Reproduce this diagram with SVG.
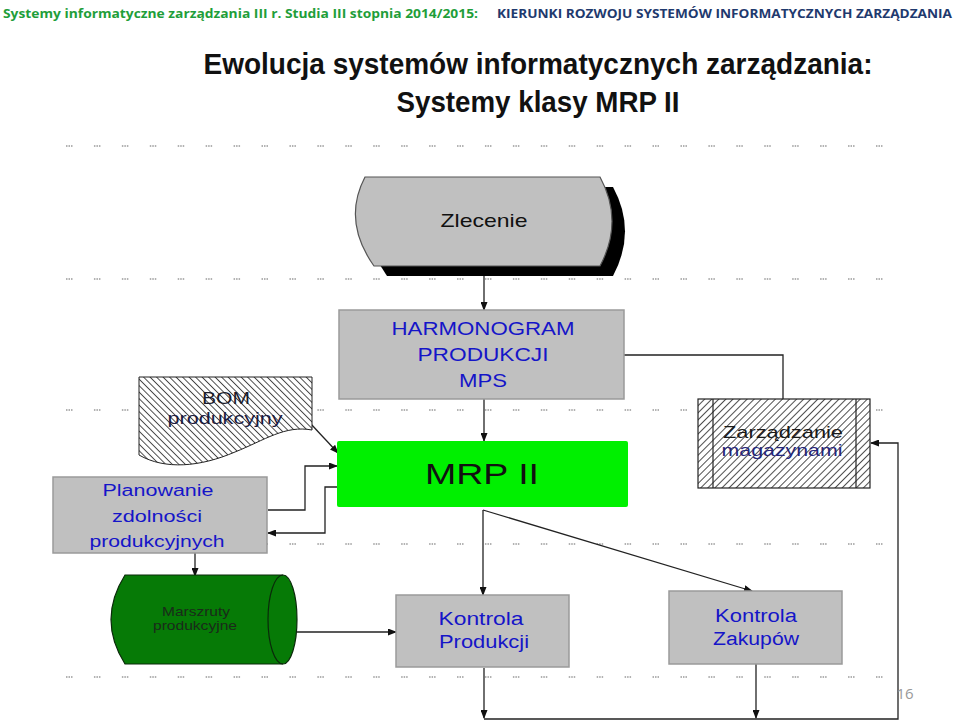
<svg xmlns="http://www.w3.org/2000/svg" width="960" height="721" viewBox="0 0 960 721">
<style>
.dots{stroke:#999;stroke-width:1.6;stroke-dasharray:1.5 1 1.5 1 1.5 21.43;fill:none}
.box{fill:#c0c0c0;stroke:#9a9a9a;stroke-width:1.5}
.lbl{font-family:"Liberation Sans",Arial,sans-serif;fill:#1515c8;text-anchor:middle}
.blk{font-family:"Liberation Sans",Arial,sans-serif;fill:#111;text-anchor:middle}
.con{fill:none;stroke:#222;stroke-width:1.3}
.ar{marker-end:url(#arr)}
</style>
<defs>
<marker id="arr" markerUnits="userSpaceOnUse" markerWidth="9" markerHeight="7" refX="8" refY="3.5" orient="auto">
<path d="M0,0 L9,3.5 L0,7 z" fill="#111"/>
</marker>
<pattern id="hBack" patternUnits="userSpaceOnUse" width="4.6" height="4.6" patternTransform="rotate(-45)">
<rect width="4.6" height="4.6" fill="#fff"/>
<line x1="0.5" y1="0" x2="0.5" y2="4.6" stroke="#222" stroke-width="0.8"/>
</pattern>
<pattern id="hFwd" patternUnits="userSpaceOnUse" width="5" height="5" patternTransform="rotate(45)">
<rect width="5" height="5" fill="#fff"/>
<line x1="0.5" y1="0" x2="0.5" y2="5" stroke="#222" stroke-width="0.8" stroke-dasharray="6 1"/>
</pattern>
</defs>
<rect width="960" height="721" fill="#fff"/>

<!-- header -->
<text x="3" y="18" font-family="'Open Sans','Liberation Sans',sans-serif" font-weight="bold" font-size="13" fill="#1f9e3a" textLength="475" lengthAdjust="spacingAndGlyphs">Systemy informatyczne zarządzania  III r.  Studia III stopnia 2014/2015:</text>
<text x="497" y="18" font-family="'Open Sans','Liberation Sans',sans-serif" font-weight="bold" font-size="12.5" fill="#1f3a6e" textLength="455" lengthAdjust="spacingAndGlyphs">KIERUNKI ROZWOJU SYSTEMÓW INFORMATYCZNYCH ZARZĄDZANIA</text>
<text x="538" y="74" font-family="'Liberation Sans',Arial,sans-serif" font-weight="bold" font-size="30" fill="#111" text-anchor="middle" textLength="669" lengthAdjust="spacingAndGlyphs">Ewolucja systemów informatycznych zarządzania:</text>
<text x="538" y="112" font-family="'Liberation Sans',Arial,sans-serif" font-weight="bold" font-size="30" fill="#111" text-anchor="middle" textLength="283" lengthAdjust="spacingAndGlyphs">Systemy klasy MRP II</text>

<!-- dotted rows -->
<g id="dotted-rows">
<line class="dots" x1="66" y1="146" x2="885" y2="146"/>
<line class="dots" x1="66" y1="279" x2="885" y2="279"/>
<line class="dots" x1="66" y1="410" x2="885" y2="410"/>
<line class="dots" x1="66" y1="544" x2="885" y2="544"/>
<line class="dots" x1="66" y1="677" x2="885" y2="677"/>
</g>

<!-- connectors -->
<g id="connectors">
<path class="con ar" d="M484,266 V310"/>
<path class="con ar" d="M484,399 V441"/>
<path class="con ar" d="M310,423 L338,453"/>
<path class="con ar" d="M268,510 H305 V466 H337"/>
<path class="con ar" d="M337,487 H325 V533 H268"/>
<path class="con ar" d="M195,553 V576"/>
<path class="con ar" d="M297,632 H396"/>
<path class="con ar" d="M483,510 V595"/>
<path class="con ar" d="M483,510 L752,591"/>
<path class="con ar" d="M783,399 V355 H614"/>
<path class="con ar" d="M484,668 V718"/>
<path class="con ar" d="M756,664 V718"/>
<path class="con ar" d="M484,719 H898 V443 H871"/>
</g>

<g id="zlecenie">
<path d="M378,187 L613,187 Q637,231 613,276 L387,276 Q355,231 378,187 Z" fill="#000"/>
<path d="M365,177 L600,177 Q624,221 600,266 L374,266 Q342,221 365,177 Z" fill="#c0c0c0" stroke="#555" stroke-width="1.2"/>
<text class="blk" x="484" y="227" font-size="19" textLength="87" lengthAdjust="spacingAndGlyphs">Zlecenie</text>
</g>

<g id="harmonogram">
<rect class="box" x="339" y="310" width="285" height="89"/>
<text class="lbl" x="483" y="335" font-size="18" textLength="183" lengthAdjust="spacingAndGlyphs">HARMONOGRAM</text>
<text class="lbl" x="483" y="361" font-size="18" textLength="131" lengthAdjust="spacingAndGlyphs">PRODUKCJI</text>
<text class="lbl" x="483" y="387" font-size="18" textLength="48" lengthAdjust="spacingAndGlyphs">MPS</text>
</g>

<g id="mrp2">
<rect x="337" y="441" width="291" height="66" rx="2" fill="#00f000"/>
<text class="blk" x="482" y="484" font-size="29" textLength="114" lengthAdjust="spacingAndGlyphs">MRP II</text>
</g>

<g id="bom">
<path d="M139,377 H312 V430 C285,425 265,440 235,452 C200,467 165,470 139,455 Z" fill="url(#hBack)" stroke="#222" stroke-width="1"/>
<text x="226" y="404" font-family="'Liberation Sans',Arial,sans-serif" font-size="16" fill="#1a1a2a" text-anchor="middle" textLength="48" lengthAdjust="spacingAndGlyphs">BOM</text>
<text x="225" y="424" font-family="'Liberation Sans',Arial,sans-serif" font-size="16" fill="#1a1a40" text-anchor="middle" textLength="115" lengthAdjust="spacingAndGlyphs">produkcyjny</text>
</g>

<g id="planowanie">
<rect class="box" x="53" y="477" width="214" height="76"/>
<text class="lbl" x="158" y="496" font-size="16" textLength="111" lengthAdjust="spacingAndGlyphs">Planowanie</text>
<text class="lbl" x="157" y="522" font-size="16" textLength="90" lengthAdjust="spacingAndGlyphs">zdolności</text>
<text class="lbl" x="157" y="547" font-size="16" textLength="135" lengthAdjust="spacingAndGlyphs">produkcyjnych</text>
</g>

<g id="zarzadzanie">
<rect x="698" y="399" width="172" height="89" fill="url(#hFwd)" stroke="#222" stroke-width="1.2"/>
<line x1="713" y1="399" x2="713" y2="488" stroke="#222" stroke-width="1.2"/>
<line x1="856" y1="399" x2="856" y2="488" stroke="#222" stroke-width="1.2"/>
<text x="783" y="438" font-family="'Liberation Sans',Arial,sans-serif" font-size="17" fill="#1a1a1a" text-anchor="middle" textLength="120" lengthAdjust="spacingAndGlyphs">Zarządzanie</text>
<text x="782" y="456" font-family="'Liberation Sans',Arial,sans-serif" font-size="17" fill="#26267a" text-anchor="middle" textLength="121" lengthAdjust="spacingAndGlyphs">magazynami</text>
</g>

<g id="marszruty">
<path d="M125,575 L283,575 A14,44.5 0 0 1 283,664 L125,664 Q97,619.5 125,575 Z" fill="#067a06" stroke="#0a2a0a" stroke-width="1.2"/>
<path d="M283,575 A15,44.5 0 0 0 283,664" fill="none" stroke="#0a2a0a" stroke-width="1.2"/>
<text x="196" y="616" font-family="'Liberation Sans',Arial,sans-serif" font-size="13" fill="#1a2a1a" text-anchor="middle" textLength="68" lengthAdjust="spacingAndGlyphs">Marszruty</text>
<text x="195" y="630" font-family="'Liberation Sans',Arial,sans-serif" font-size="13" fill="#1a2a1a" text-anchor="middle" textLength="84" lengthAdjust="spacingAndGlyphs">produkcyjne</text>
</g>

<g id="kontrola-produkcji">
<rect class="box" x="396" y="595" width="173" height="72"/>
<text class="lbl" x="481" y="625" font-size="18" textLength="85" lengthAdjust="spacingAndGlyphs">Kontrola</text>
<text class="lbl" x="484" y="648" font-size="18" textLength="90" lengthAdjust="spacingAndGlyphs">Produkcji</text>
</g>

<g id="kontrola-zakupow">
<rect class="box" x="669" y="591" width="173" height="73"/>
<text class="lbl" x="756" y="622" font-size="18" textLength="82" lengthAdjust="spacingAndGlyphs">Kontrola</text>
<text class="lbl" x="756" y="645" font-size="18" textLength="86" lengthAdjust="spacingAndGlyphs">Zakupów</text>
</g>

<text x="905" y="699" font-family="'Open Sans','Liberation Sans',sans-serif" font-size="15" fill="#999" text-anchor="middle">16</text>
</svg>
